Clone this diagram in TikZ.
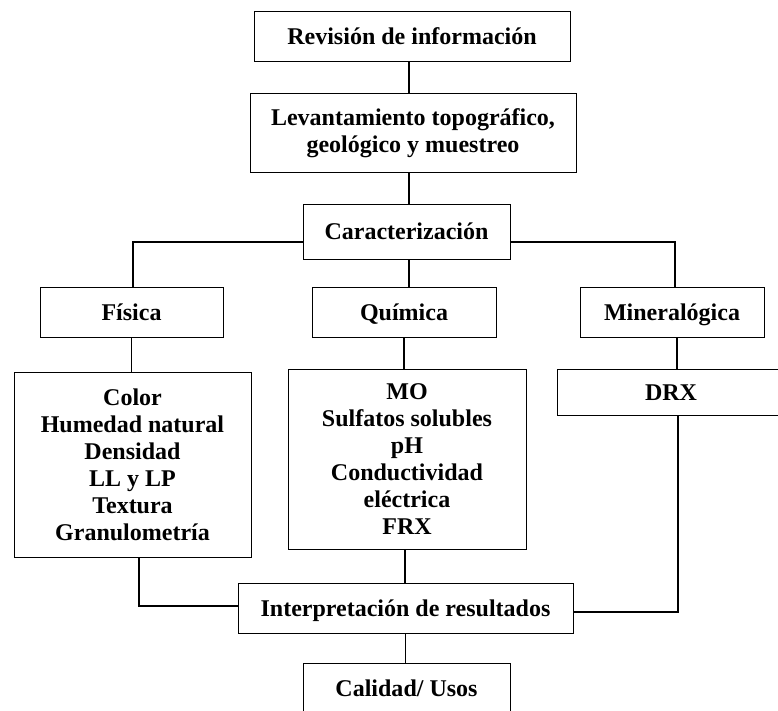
\documentclass[tikz,border=0pt]{standalone}
\usepackage{fontspec}
\setmainfont{Liberation Serif}
\usepackage{tikz}

\tikzset{box/.style={draw, line width=1pt, align=center, inner sep=0pt,
		font=\fontsize{24}{27}\selectfont\bfseries},
	oneline/.style={text height=22pt, text depth=6pt},
	link/.style={line width=1.2pt}}

\begin{document}
\begin{tikzpicture}[x=1pt, y=-1pt]
	\clip (0,0) rectangle (778,711);
	\node[box, oneline, minimum width=316, minimum height=50] (rev) at (412,37) {Revisión de información};
	\node[box, minimum width=326, minimum height=79] (lev) at (413,133.5) {Levantamiento topográfico,\\ geológico y muestreo};
	\node[box, oneline, minimum width=207, minimum height=54] (car) at (406.5,232) {Caracterización};
	\node[box, oneline, minimum width=183, minimum height=50] (fis) at (131.5,312) {Física};
	\node[box, oneline, minimum width=184, minimum height=50] (qui) at (404,312.5) {Química};
	\node[box, oneline, minimum width=184, minimum height=50] (min) at (672,312.5) {Mineralógica};
	\node[box, minimum width=237, minimum height=185] (col) at (132.5,464.5)
		{Color\\ Humedad natural\\ Densidad\\ LL y LP\\ Textura\\ Granulometría};
	\node[box, minimum width=238, minimum height=180] (mo) at (407,459)
		{MO\\ Sulfatos solubles\\ pH\\ Conductividad\\ eléctrica\\ FRX};
	\node[box, oneline, minimum width=228, minimum height=46] (drx) at (671,392) {DRX};
	\node[box, oneline, minimum width=335, minimum height=50] (int) at (405.5,608) {Interpretación de resultados};
	\node[box, oneline, minimum width=207, minimum height=50] (cal) at (406.5,688) {Calidad/ Usos};

	% conectores
	\draw[link] ([xshift=-3pt]rev.south) -- ([xshift=-3pt]rev.south |- lev.north);
	\draw[link] ([xshift=2.5pt]car.north) -- ([xshift=2.5pt]car.north |- lev.south);
	\draw[link] ([yshift=-10pt]car.west) -| ([xshift=1.5pt]fis.north);
	\draw[link] ([yshift=-10pt]car.east) -| ([xshift=3pt]min.north);
	\draw[link] ([xshift=2.5pt]car.south) -- ([xshift=2.5pt]car.south |- qui.north);
	\draw[link] (fis.south) -- (fis.south |- col.north);
	\draw[link] (qui.south) -- (qui.south |- mo.north);
	\draw[link] ([xshift=5pt]min.south) -- ([xshift=5pt]min.south |- drx.north);
	\draw[link] ([xshift=6pt]min.south |- drx.south) |- ([yshift=-4pt]int.east);
	\draw[link] ([xshift=6.5pt]col.south) |- ([yshift=2pt]int.west);
	\draw[link] ([xshift=-2pt]mo.south) -- ([xshift=-2pt]mo.south |- int.north);
	\draw[link] (int.south) -- (int.south |- cal.north);
\end{tikzpicture}
\end{document}
